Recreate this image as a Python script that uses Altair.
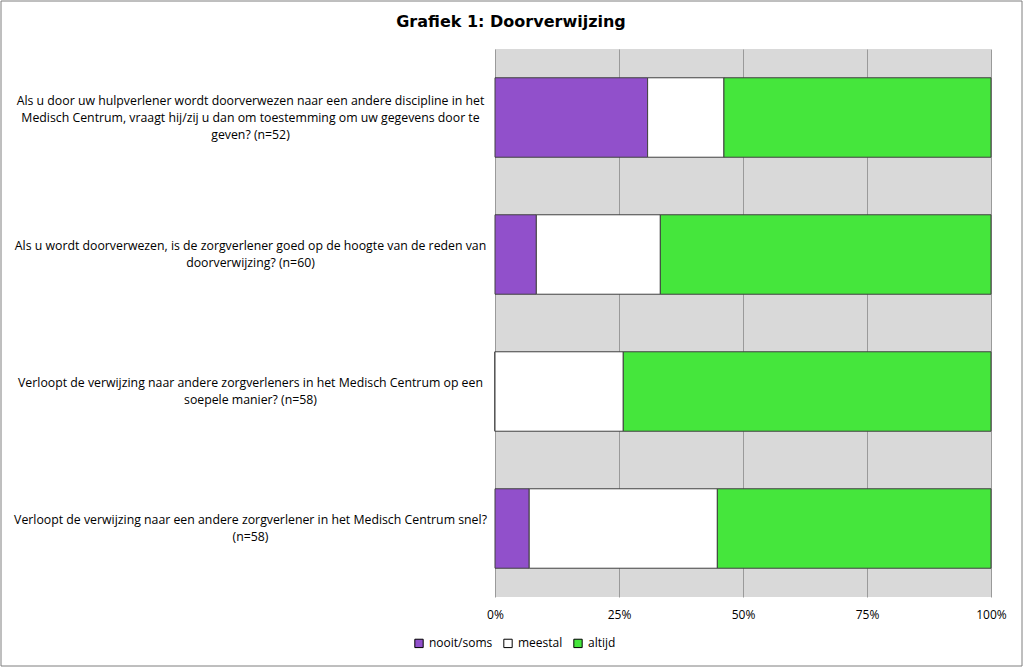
import altair as alt
import pandas as pd

title_text = "Grafiek 1: Doorverwijzing"
questions = [
    "Als u door uw hulpverlener wordt doorverwezen naar een andere discipline in het|Medisch Centrum, vraagt hij/zij u dan om toestemming om uw gegevens door te|geven? (n=52)",
    "Als u wordt doorverwezen, is de zorgverlener goed op de hoogte van de reden van|doorverwijzing? (n=60)",
    "Verloopt de verwijzing naar andere zorgverleners in het Medisch Centrum op een|soepele manier? (n=58)",
    "Verloopt de verwijzing naar een andere zorgverlener in het Medisch Centrum snel?|(n=58)",
]
categories = ["nooit/soms", "meestal", "altijd"]
colors = ["#9150CB", "#FFFFFF", "#45E63C"]
nooit_soms = [16, 5, 0, 4]
meestal = [8, 15, 15, 22]
altijd = [28, 40, 43, 32]

rows = []
for i, q in enumerate(questions):
    for j, (cat, vals) in enumerate(zip(categories, [nooit_soms, meestal, altijd])):
        rows.append({"vraag": q, "antwoord": cat, "aantal": vals[i], "volgorde": j})
df = pd.DataFrame(rows)

bars = alt.Chart(df).mark_bar(stroke="#404040", strokeWidth=1).encode(
    y=alt.Y("vraag:N", sort=questions,
            scale=alt.Scale(paddingInner=0.42, paddingOuter=0.21),
            axis=alt.Axis(title=None, labelExpr="split(datum.label, '|')",
                          labelAlign="center", labelPadding=245, labelLimit=600,
                          labelOffset={"condition": {"test": "length(split(datum.label, '|')) >= 3",
                                                     "value": -17},
                                       "value": -8.5},
                          labelFont="Open Sans", labelFontSize=12.3, labelLineHeight=17,
                          labelColor="#000000", ticks=False, domain=False, grid=False)),
    x=alt.X("aantal:Q", stack="normalize",
            scale=alt.Scale(domain=[0, 1], nice=False),
            axis=alt.Axis(title=None, format="%", values=[0, 0.25, 0.5, 0.75, 1],
                          labelFont="Open Sans", labelFontSize=12, labelColor="#000000",
                          labelPadding=12, labelFlush=False, ticks=False, domain=False,
                          grid=True, gridColor="#9a9a9a", gridWidth=1)),
    color=alt.Color("antwoord:N", sort=categories,
                    scale=alt.Scale(domain=categories, range=colors),
                    legend=alt.Legend(title=None, orient="none", direction="horizontal",
                                      legendX=-82, legendY=588,
                                      symbolType="square", symbolSize=70,
                                      symbolStrokeColor="#000000", symbolStrokeWidth=1,
                                      labelFont="Open Sans", labelFontSize=12,
                                      labelColor="#000000", columnPadding=8)),
    order=alt.Order("volgorde:Q"),
)

single = pd.DataFrame({"t": [title_text]})

frame = alt.Chart(single).mark_rect(
    fill="#ffffff", fillOpacity=0, stroke="#7f7f7f", strokeWidth=1
).encode(
    x=alt.value(-494), x2=alt.value(527), y=alt.value(-48), y2=alt.value(617)
)

title = alt.Chart(single).mark_text(
    font="DejaVu Sans", fontSize=16, fontWeight="bold", color="#000000",
    align="center", baseline="middle"
).encode(text="t:N", x=alt.value(16), y=alt.value(-27))

chart = alt.layer(frame, bars, title).properties(
    width=496, height=548,
    autosize=alt.AutoSizeParams(type="none"),
    padding={"left": 495, "top": 49, "right": 32, "bottom": 70},
    background="#ffffff",
).configure_view(fill="#d9d9d9", stroke=None)

chart.save("out.html", embed_options={"renderer": "svg", "actions": False})
